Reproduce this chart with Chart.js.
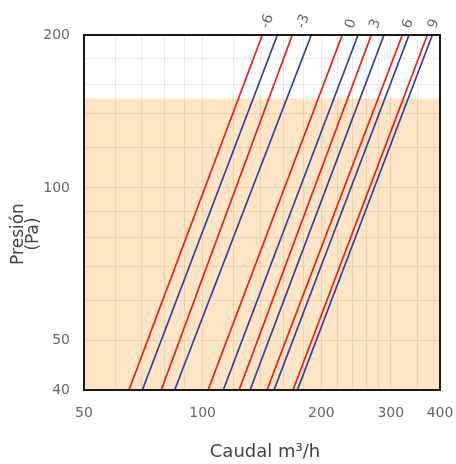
<!DOCTYPE html>
<html>
<head>
<meta charset="utf-8">
<script src="https://cdn.jsdelivr.net/npm/chart.js@4"></script>
<style>
  html, body { margin: 0; padding: 0; background: #fff; }
  #wrap { width: 456px; height: 464px; position: relative; }
</style>
</head>
<body>
<div id="wrap"><canvas id="chart"></canvas></div>
<script>
// regulator settings, one red + one blue line per setting
const settings = ['-6', '-3', '0', '3', '6', '9'];
// flow (m3/h) where each line crosses 40 Pa and 200 Pa
const redLow   = [65.0, 78.5, 103.2, 123.7, 145.6, 169.5];
const redHigh  = [141.7, 168.8, 226, 267.8, 321, 371.5];
const blueLow  = [70.3, 84.9, 112.8, 131.9, 151.7, 173.9];
const blueHigh = [154.7, 188.6, 247.8, 288.4, 333.8, 382.5];
const pressureEnds = [40, 200];
// where the setting labels sit above the plot
const labelFlow = [146, 180, 238, 274, 332, 386];
// shaded zone starts at this pressure
const shadedFrom = 150;

const xTicks = [50, 60, 70, 80, 90, 100, 120, 140, 160, 180, 200, 220, 240, 260, 280, 300, 350, 400];
const xLabels = [50, 100, 200, 300, 400];
const yTicks = [40, 50, 60, 70, 80, 90, 100, 120, 140, 160, 180, 200];
const yLabels = [40, 50, 100, 200];

const FONT = '"DejaVu Sans", sans-serif';

const datasets = [];
settings.forEach((s, i) => {
    datasets.push({
        label: s + ' a',
        data: [{ x: redLow[i], y: pressureEnds[0] }, { x: redHigh[i], y: pressureEnds[1] }],
        borderColor: '#e8201c'
    });
    datasets.push({
        label: s + ' b',
        data: [{ x: blueLow[i], y: pressureEnds[0] }, { x: blueHigh[i], y: pressureEnds[1] }],
        borderColor: '#34419b'
    });
});
datasets.forEach(d => {
    d.showLine = true;
    d.borderWidth = 1.7;
    d.pointRadius = 0;
    d.fill = false;
});

const decor = {
    id: 'decor',
    beforeDraw(chart) {
        const { ctx, chartArea: a, scales } = chart;
        const yTop = scales.y.getPixelForValue(shadedFrom);
        ctx.save();
        ctx.fillStyle = '#fde4c4';
        ctx.fillRect(a.left, yTop, a.right - a.left, a.bottom - yTop);
        ctx.restore();
    },
    afterDraw(chart) {
        const { ctx, chartArea: a, scales } = chart;
        ctx.save();
        // frame
        ctx.strokeStyle = '#1a1a1a';
        ctx.lineWidth = 2;
        ctx.strokeRect(a.left, a.top, a.right - a.left, a.bottom - a.top);

        // setting labels, tilted
        ctx.font = '14px ' + FONT;
        ctx.fillStyle = '#666';
        ctx.textAlign = 'left';
        ctx.textBaseline = 'middle';
        const ang = -70 * Math.PI / 180;
        settings.forEach((s, i) => {
            const w = ctx.measureText(s).width;
            const cx = scales.x.getPixelForValue(labelFlow[i]);
            ctx.save();
            ctx.translate(cx - (w / 2) * Math.cos(ang), 28);
            ctx.rotate(ang);
            ctx.fillText(s, 0, 0);
            ctx.restore();
        });

        // axis titles
        ctx.fillStyle = '#444';
        ctx.font = '18px ' + FONT;
        ctx.textAlign = 'center';
        ctx.fillText('Caudal m³/h', (a.left + a.right) / 2 + 3, 452);
        ctx.font = '17px ' + FONT;
        ctx.textBaseline = 'alphabetic';
        ctx.save();
        ctx.translate(0, 234);
        ctx.rotate(-Math.PI / 2);
        ctx.fillText('Presión', 0, 23);
        ctx.fillText('(Pa)', 0, 38);
        ctx.restore();
        ctx.restore();
    }
};

new Chart(document.getElementById('chart'), {
    type: 'scatter',
    data: { datasets: datasets },
    options: {
        responsive: true,
        maintainAspectRatio: false,
        animation: false,
        layout: { padding: { top: 35, right: 16, left: 0, bottom: 0 } },
        plugins: {
            legend: { display: false },
            tooltip: { enabled: false }
        },
        scales: {
            x: {
                type: 'logarithmic',
                min: 50,
                max: 400,
                afterBuildTicks: s => { s.ticks = xTicks.map(v => ({ value: v })); },
                afterFit: s => {
                    s.height = 74;
                    s.paddingLeft = 0;
                    s.paddingRight = 0;
                },
                grid: { color: 'rgba(0,0,0,0.08)', drawTicks: false },
                border: { display: false },
                ticks: {
                    autoSkip: false,
                    maxRotation: 0,
                    padding: 15,
                    color: '#666',
                    font: { family: FONT, size: 14 },
                    callback: v => xLabels.includes(v) ? String(v) : ''
                }
            },
            y: {
                type: 'logarithmic',
                min: 40,
                max: 200,
                afterBuildTicks: s => { s.ticks = yTicks.map(v => ({ value: v })); },
                afterFit: s => {
                    s.width = 84;
                    s.paddingTop = 0;
                    s.paddingBottom = 0;
                },
                grid: { color: 'rgba(0,0,0,0.08)', drawTicks: false },
                border: { display: false },
                ticks: {
                    autoSkip: false,
                    padding: 14,
                    color: '#666',
                    font: { family: FONT, size: 14 },
                    callback: v => yLabels.includes(v) ? String(v) : ''
                }
            }
        }
    },
    plugins: [decor]
});
</script>
</body>
</html>
